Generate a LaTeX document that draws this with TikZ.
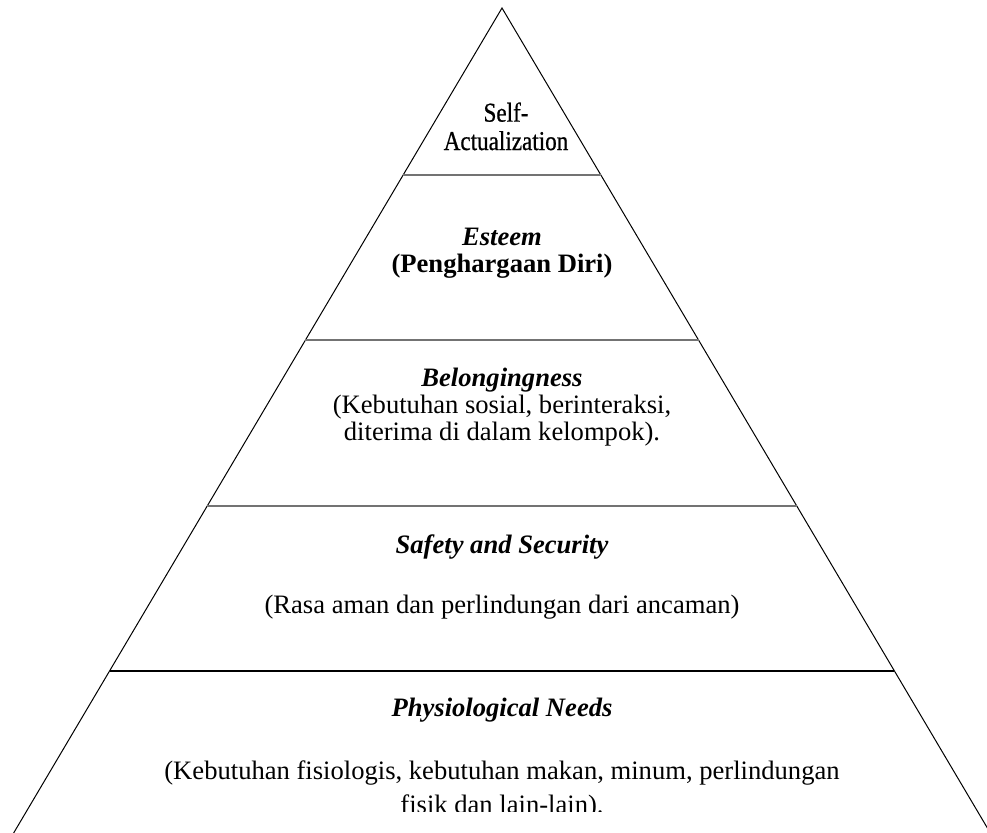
\documentclass[tikz,border=0pt]{standalone}
\usepackage{fontspec}
\setmainfont{Liberation Serif}
\newfontfamily\selffont[FakeBold=0.8]{Liberation Serif}
\usetikzlibrary{positioning,calc}

\begin{document}
\begin{tikzpicture}[x=0.5pt, y=-0.5pt,
    side/.style={draw=black, line width=0.5pt},
    tier/.style={draw=black!55, line width=1.1pt},
    title/.style={font=\fontsize{13.3}{15}\selectfont\bfseries\itshape, anchor=base},
    body/.style={font=\fontsize{13.3}{13.5}\selectfont, align=center, anchor=base},
    ]
    \useasboundingbox (0,0) rectangle (987,832);
    % pyramid outline
    \coordinate (apex) at (502,8);
    \coordinate (bl) at (9.5,840);
    \coordinate (br) at (994.5,840);
    \draw[side] (bl) -- (apex) -- (br);
    % tier borders
    \foreach \y/\name in {175/a,340/b,506/c} {
        \coordinate (l\name) at ($(apex)!{(\y-8)/832}!(bl)$);
        \coordinate (r\name) at ($(apex)!{(\y-8)/832}!(br)$);
        \draw[tier] (l\name) -- (r\name);
    }
    \coordinate (ld) at ($(apex)!{(671-8)/832}!(bl)$);
    \coordinate (rd) at ($(apex)!{(671-8)/832}!(br)$);
    \draw[tier, draw=black] (ld) -- (rd);
    % labels (base = baseline of the last line)
    \node[font=\fontsize{13.6}{14.2}\selectfont\selffont, xscale=0.85, align=center, anchor=base] (self) at (506,150)
        {Self-\\Actualization};
    \node[title] (esteem) at (502,245) {Esteem};
    \node[font=\fontsize{13.3}{15}\selectfont\bfseries, anchor=base] (esteemtxt) at (502,272) {(Penghargaan Diri)};
    \node[title] (belong) at (502,386) {Belongingness};
    \node[body] (belongtxt) at (502,440) {(Kebutuhan sosial, berinteraksi,\\diterima di dalam kelompok).};
    \node[title] (safety) at (502,553) {Safety and Security};
    \node[body] (safetytxt) at (502,613) {(Rasa aman dan perlindungan dari ancaman)};
    \node[title] (physio) at (502,716) {Physiological Needs};
    % last line is cut off at its foot
    \begin{scope}
        \clip (0,0) rectangle (987,811);
        \node[body, font=\fontsize{13.3}{17}\selectfont] (physiotxt) at (502,813)
            {(Kebutuhan fisiologis, kebutuhan makan, minum, perlindungan\\fisik dan lain-lain).};
    \end{scope}
\end{tikzpicture}
\end{document}
